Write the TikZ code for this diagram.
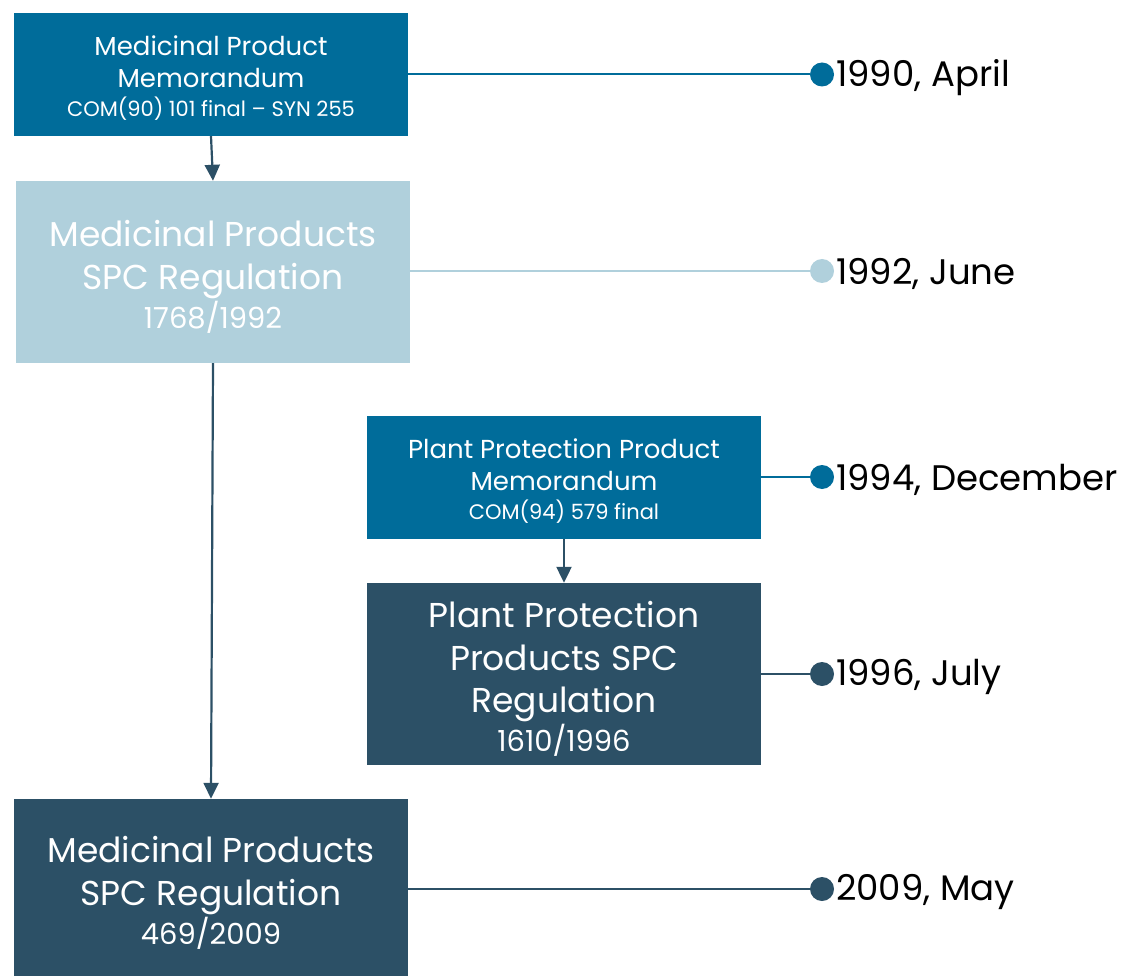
\documentclass[tikz,border=0pt]{standalone}
\usepackage{fontspec}
\setmainfont{Poppins}
\usetikzlibrary{arrows.meta}
\definecolor{mid}{RGB}{0,108,154}
\definecolor{light}{RGB}{176,208,220}
\definecolor{dark}{RGB}{44,80,102}
\tikzset{
  box/.style={rectangle, inner sep=0pt, text=white, align=center, anchor=center, minimum width=394pt},
  smallbox/.style={box, minimum height=123pt, font=\fontsize{26}{32}\selectfont},
  bigbox/.style={box, font=\fontsize{34.5}{43}\selectfont},
  arr/.style={draw=dark, line width=2.2pt, -{Triangle[length=16pt,width=15pt]}},
  tl/.style={line width=2pt},
  dot/.style={circle, inner sep=0pt, minimum size=24pt},
  date/.style={anchor=west, inner sep=0pt, text=black, font=\fontsize{35.5}{40}\selectfont}
}
\newcommand{\comline}[1]{{\fontsize{21}{24}\selectfont #1}}
\newcommand{\numline}[1]{{\fontsize{29}{32}\selectfont #1}}
\newcommand{\topstrut}[1]{\rule{0pt}{#1}}
\begin{document}
\begin{tikzpicture}[x=1pt,y=-1pt]
\useasboundingbox (0,0) rectangle (1127,976);
% boxes
\node[smallbox, fill=mid] (a) at (211,74.5)
  {\topstrut{27pt}Medicinal Product\\ Memorandum\\[-3pt] \comline{COM(90) 101 final – SYN 255}};
\node[bigbox, fill=light, minimum height=182pt] (b) at (213,272)
  {\topstrut{36pt}Medicinal Products\\ SPC Regulation\\[-4pt] \numline{1768/1992}};
\node[smallbox, fill=mid] (c) at (564,477.5)
  {\topstrut{27pt}Plant Protection Product\\ Memorandum\\[-3pt] \comline{COM(94) 579 final}};
\node[bigbox, fill=dark, minimum height=182pt] (d) at (564,674)
  {\topstrut{36pt}Plant Protection\\ Products SPC\\[-1pt] Regulation\\[-4pt] \numline{1610/1996}};
\node[bigbox, fill=dark, minimum height=177pt] (e) at (211,887.5)
  {\topstrut{36pt}Medicinal Products\\ SPC Regulation\\[-4pt] \numline{469/2009}};
% arrows
\draw[arr] (a.south) -- (b.north);
\draw[arr] (b.south) -- (e.north);
\draw[arr] (c.south) -- (d.north);
% timeline dots
\node[dot, fill=mid] (da) at (822,74.5) {};
\node[dot, fill=light] (db) at (822,271) {};
\node[dot, fill=mid] (dc) at (822,477) {};
\node[dot, fill=dark] (dd) at (822,674) {};
\node[dot, fill=dark] (de) at (822,889) {};
\draw[tl, mid] (a.east) -- (da.west);
\draw[tl, light] (b.east |- db) -- (db.west);
\draw[tl, mid] (c.east |- dc) -- (dc.west);
\draw[tl, dark] (d.east) -- (dd.west);
\draw[tl, dark] (e.east |- de) -- (de.west);
% dates
\node[date] (ta) at (836,77.5) {1990, April};
\node[date] (tb) at (836,274) {1992, June};
\node[date] (tc) at (836,480) {1994, December};
\node[date] (td) at (836,677) {1996, July};
\node[date] (te) at (836,892) {2009, May};
\end{tikzpicture}
\end{document}
